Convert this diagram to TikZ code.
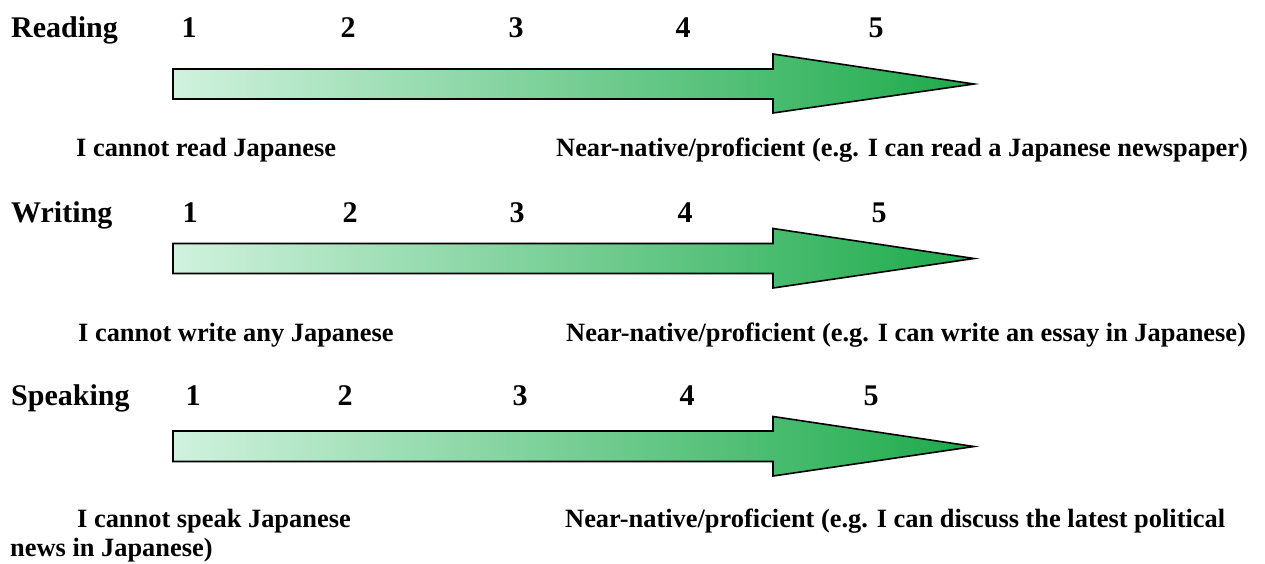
\documentclass[tikz,border=0pt]{standalone}
\usepackage{fontspec}
\setmainfont{Liberation Serif}
\definecolor{lightmint}{RGB}{208,242,222}
\definecolor{deepgreen}{RGB}{28,170,74}
\begin{document}
\begin{tikzpicture}[x=1pt,y=-1pt,
  head/.style={anchor=base west,inner sep=0pt,font=\bfseries\fontsize{30}{34}\selectfont},
  num/.style={anchor=base,inner sep=0pt,font=\bfseries\fontsize{30}{34}\selectfont},
  lbl/.style={anchor=base west,inner sep=0pt,font=\bfseries\fontsize{26.4}{30}\selectfont},
  bigarrow/.style={draw=black,line width=1.6pt,line join=miter,left color=lightmint,right color=deepgreen}]
\useasboundingbox (0,0) rectangle (1265,563);
% Reading
\node[head] (hR) at (11,37) {Reading};
\foreach \x/\n in {189/1,348/2,516/3,683/4,876/5}{\node[num] (r\n) at (\x,37) {\n};}
\draw[bigarrow] (173,69) -- (773,69) -- (773,54) -- (974,84) -- (773,113) -- (773,99) -- (173,99) -- cycle;
\node[lbl] (rL) at (76,156) {I cannot read Japanese};
\node[lbl] (rR) at (556,156) {Near-native/proficient (e.g. I can read a Japanese newspaper)};
% Writing
\node[head] (hW) at (11,222) {Writing};
\foreach \x/\n in {190/1,350/2,517/3,685/4,879/5}{\node[num] (w\n) at (\x,222) {\n};}
\draw[bigarrow] (173,243.5) -- (773,243.5) -- (773,228.5) -- (974,258.5) -- (773,288) -- (773,273.5) -- (173,273.5) -- cycle;
\node[lbl] (wL) at (78,341) {I cannot write any Japanese};
\node[lbl] (wR) at (566,341) {Near-native/proficient (e.g. I can write an essay in Japanese)};
% Speaking
\node[head] (hS) at (11,405) {Speaking};
\foreach \x/\n in {193/1,345/2,520/3,687/4,871/5}{\node[num] (s\n) at (\x,405) {\n};}
\draw[bigarrow] (173,431) -- (773,431) -- (773,416.5) -- (974,446.5) -- (773,476) -- (773,461.5) -- (173,461.5) -- cycle;
\node[lbl] (sL) at (77,527) {I cannot speak Japanese};
\node[lbl] (sR) at (565,527) {Near-native/proficient (e.g. I can discuss the latest political};
\node[lbl] (sR2) at (10,556) {news in Japanese)};
\end{tikzpicture}
\end{document}
